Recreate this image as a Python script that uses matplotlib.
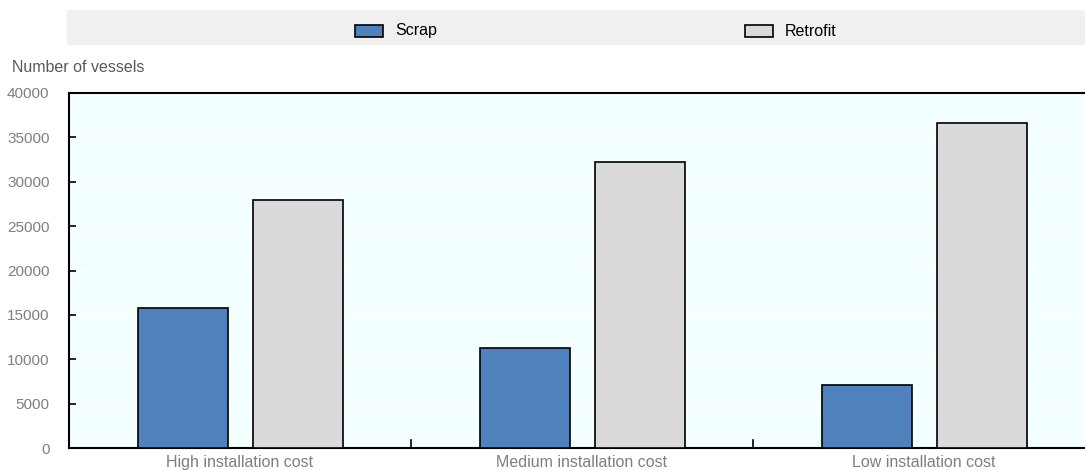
import numpy as np
import matplotlib
matplotlib.use("Agg")
import matplotlib.pyplot as plt
from matplotlib.patches import Rectangle

categories = ["High installation cost", "Medium installation cost", "Low installation cost"]
scrap = [15800, 11300, 7100]
retrofit = [27900, 32200, 36600]
series_names = ["Scrap", "Retrofit"]
yticks = [0, 5000, 10000, 15000, 20000, 25000, 30000, 35000, 40000]

plt.rcParams['font.family'] = ['Liberation Sans', 'DejaVu Sans']

W, H = 1085, 470
fig = plt.figure(figsize=(W / 100, H / 100), dpi=100)

# plot area in pixels
left, right, top, bottom = 69, 1085, 93, 448
ax = fig.add_axes([left / W, 1 - bottom / H, (right - left) / W, (bottom - top) / H])
ax.set_facecolor("#F4FFFF")

x = np.arange(len(categories))
width = 0.263
ax.bar(x - 0.168, scrap, width, color="#4F81BD", edgecolor="black", linewidth=1.2, zorder=3)
ax.bar(x + 0.17, retrofit, width, color="#DADADA", edgecolor="black", linewidth=1.2, zorder=3)

ax.set_xlim(-0.5, -0.5 + (right - left) / 342)
ax.set_ylim(0, 40000)
ax.set_yticks(yticks)
ax.set_yticklabels([str(v) for v in yticks], color="#7F7F7F", fontsize=11)
ax.yaxis.grid(True, color="white", linewidth=1.2, zorder=0)
ax.tick_params(axis="y", direction="in", length=5, width=1.2, pad=14, color="black")

ax.set_xticks(x)
ax.set_xticklabels(categories, color="#7F7F7F", fontsize=11.5)
ax.tick_params(axis="x", length=0, pad=5)
# category separators
for s in [0.5, 1.5]:
    ax.plot([s, s], [0, 900], color="black", linewidth=1.2, zorder=4, clip_on=False)

for side in ["left", "bottom", "top"]:
    ax.spines[side].set_linewidth(1.5)
    ax.spines[side].set_color("black")
ax.spines["right"].set_visible(False)

fig.text(12 / W, 1 - 67 / H, "Number of vessels", color="#595959", fontsize=11.5, va="center")

# legend strip
fig.patches.append(Rectangle((67 / W, 1 - 45 / H), (1085 - 67) / W, 35 / H,
                             transform=fig.transFigure, facecolor="#F0F0F0", edgecolor="none"))
for px, name, col in [(355, series_names[0], "#4F81BD"), (745, series_names[1], "#DADADA")]:
    fig.patches.append(Rectangle((px / W, 1 - 37 / H), 28 / W, 12 / H, transform=fig.transFigure,
                                 facecolor=col, edgecolor="black", linewidth=1.2))
    fig.text((px + 40) / W, 1 - 31 / H, name, color="black", fontsize=11.5, va="center")

fig.savefig("out.png", dpi=100)
